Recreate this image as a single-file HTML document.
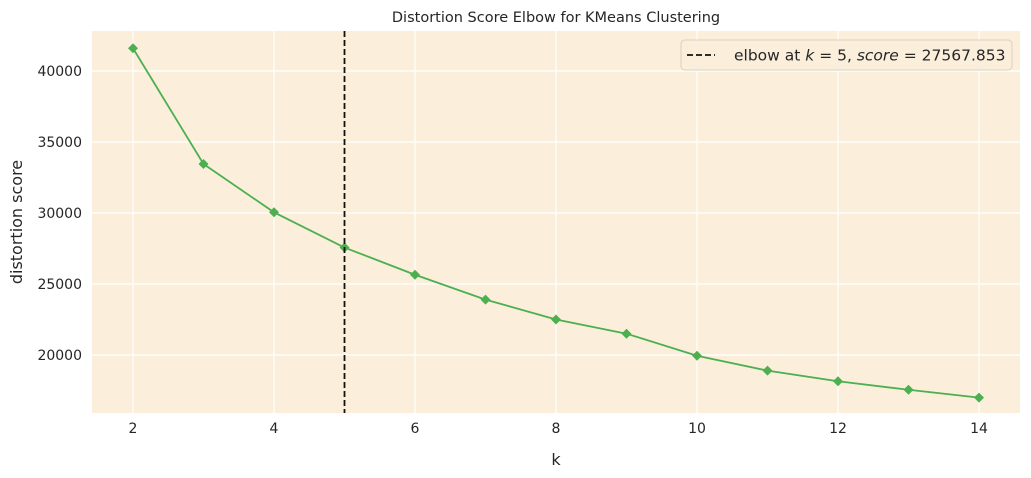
<!DOCTYPE html>
<html><head><meta charset="utf-8"><style>
body{margin:0;background:#fff;width:1031px;height:478px;overflow:hidden}
svg{display:block;font-family:"DejaVu Sans","Liberation Sans",sans-serif}
</style></head><body>
<svg id="c" width="1031" height="478"></svg>
<script>
const ks=[2,3,4,5,6,7,8,9,10,11,12,13,14];
const scores=[41600,33450,30050,27567.853,25650,23900,22500,21500,19950,18900,18150,17550,17000];
const xTicks=[2,4,6,8,10,12,14];
const yTicks=[20000,25000,30000,35000,40000];
const elbowK=5;
const L=92,R=1020,T=31,B=413;
const X=v=>133+(v-2)*70.5;
const Y=v=>71+(40000-v)*0.0142;
const s=document.getElementById('c');const NS='http://www.w3.org/2000/svg';
function el(t,a,txt){const e=document.createElementNS(NS,t);for(const k in a)e.setAttribute(k,a[k]);if(txt!=null)e.textContent=txt;s.appendChild(e);return e;}
let e=el('rect',{x:L,y:T,width:R-L,height:B-T,fill:'#fbefdc'});

xTicks.forEach(t=>{let g=el('line',{x1:X(t),x2:X(t),y1:T,y2:B,stroke:'#fff','stroke-width':1.2});

let l=el('text',{x:X(t),y:B+20,'text-anchor':'middle','font-size':14,fill:'#262626'},t);
});
yTicks.forEach(t=>{let g=el('line',{x1:L,x2:R,y1:Y(t),y2:Y(t),stroke:'#fff','stroke-width':1.2});

let l=el('text',{x:L-10,y:Y(t)+5,'text-anchor':'end','font-size':14,fill:'#262626'},t);
});
let p=el('polyline',{points:ks.map((k,i)=>X(k)+','+Y(scores[i])).join(' '),fill:'none',stroke:'#4caf50','stroke-width':1.8});

ks.forEach((k,i)=>{const x=X(k),y=Y(scores[i]);let m=el('polygon',{points:`${x},${y-5} ${x+5},${y} ${x},${y+5} ${x-5},${y}`,fill:'#4caf50'});
});
let v=el('line',{x1:X(elbowK),x2:X(elbowK),y1:T,y2:B,stroke:'#111','stroke-width':1.8,'stroke-dasharray':'6,3'});

let t=el('text',{x:(L+R)/2,y:22,'text-anchor':'middle','font-size':14.5,fill:'#262626'},'Distortion Score Elbow for KMeans Clustering');

let xt=el('text',{x:(L+R)/2,y:465,'text-anchor':'middle','font-size':16,fill:'#262626'},'k');

let yt=el('text',{x:0,y:0,'text-anchor':'middle','font-size':16,fill:'#262626',transform:`translate(22,${(T+B)/2}) rotate(-90)`},'distortion score');

let lb=el('rect',{x:681,y:40,width:331,height:30,rx:4,fill:'#fbefdc',stroke:'#d8d0c4'});

let ll=el('line',{x1:687,x2:715,y1:55,y2:55,stroke:'#111','stroke-width':1.8,'stroke-dasharray':'6,3'});

let lt=el('text',{x:734,y:60.5,'font-size':15.5,fill:'#262626'});

lt.innerHTML='elbow at <tspan font-style="italic">k</tspan> = '+elbowK+', <tspan font-style="italic">score</tspan> = '+scores[ks.indexOf(elbowK)].toFixed(3);
</script>
</body></html>
